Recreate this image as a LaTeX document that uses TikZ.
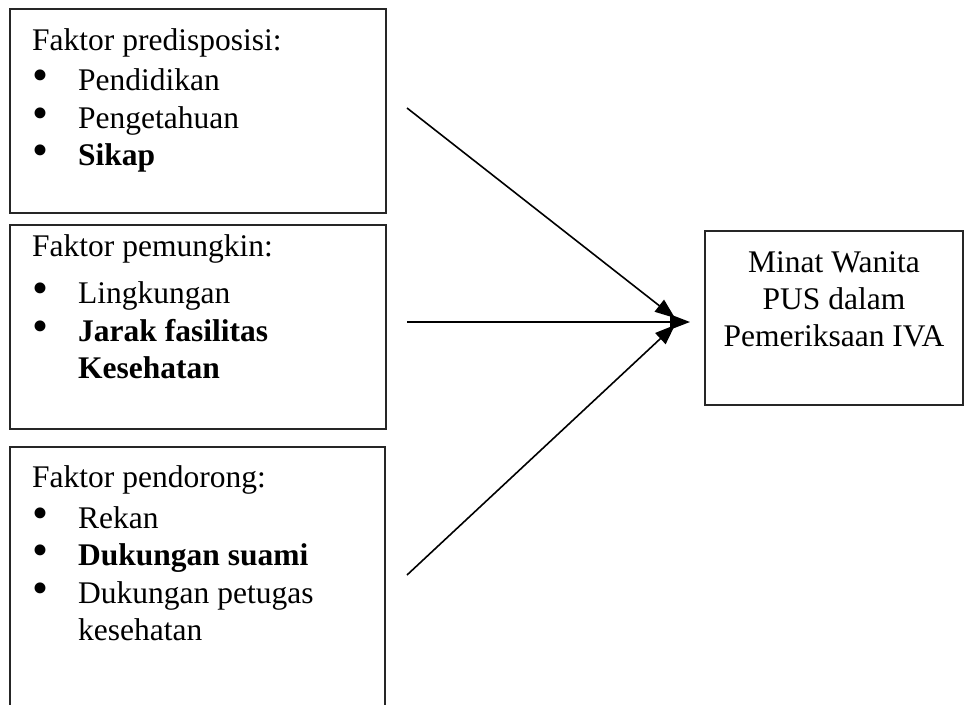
\documentclass[tikz,border=0pt]{standalone}
\usepackage{fontspec}
\setmainfont{Liberation Serif}
\usetikzlibrary{arrows.meta}

\newcommand{\butir}{\makebox[46pt][l]{\hspace{0.5pt}\scalebox{1.45}{\textbullet}}}
\newcommand{\lanjut}{\hspace*{46pt}}

\begin{document}
\begin{tikzpicture}[x=1pt, y=-1pt]
    \tikzstyle{kotak} = [draw, line width=1.2pt, black!85]
    \tikzstyle{teks} = [inner sep=0pt, align=left, anchor=north west, font=\fontsize{31.5}{37.5}\selectfont]
    \tikzstyle{panah} = [line width=1.6pt, -{Triangle[length=20pt, width=15pt]}]

    \useasboundingbox (0, 0) rectangle (966, 704);
    \clip (0, 0) rectangle (966, 704);

    % faktor-faktor
    \draw[kotak] (10, 9)   rectangle (386, 213);
    \node[teks] (predisposisi) at (32, 28.3) {Faktor predisposisi:\\[3pt]
        \butir Pendidikan\\
        \butir Pengetahuan\\
        \butir\textbf{Sikap}};

    \draw[kotak] (10, 225) rectangle (386, 429);
    \node[teks] (pemungkin) at (32, 234) {Faktor pemungkin:\\[10pt]
        \butir Lingkungan\\
        \butir\textbf{Jarak fasilitas}\\
        \lanjut\textbf{Kesehatan}};

    \draw[kotak] (10, 447) rectangle (385, 720);
    \node[teks] (pendorong) at (32, 465.5) {Faktor pendorong:\\[3pt]
        \butir Rekan\\
        \butir\textbf{Dukungan suami}\\
        \butir Dukungan petugas\\
        \lanjut kesehatan};

    % minat
    \draw[kotak] (705, 231) rectangle (963, 405);
    \node[teks, align=center, anchor=north, font=\fontsize{31.5}{37}\selectfont] (minat) at (834, 251) {Minat Wanita\\PUS dalam\\Pemeriksaan IVA};

    % panah
    \coordinate (awal1) at (407, 108);
    \coordinate (awal2) at (407, 322);
    \coordinate (awal3) at (407, 575);
    \coordinate (ujung1) at (675, 318);
    \coordinate (ujung2) at (690, 322);
    \coordinate (ujung3) at (675, 325);

    \draw[panah] (awal1) -- (ujung1);
    \draw[panah] (awal2) -- (ujung2);
    \draw[panah] (awal3) -- (ujung3);
\end{tikzpicture}
\end{document}
